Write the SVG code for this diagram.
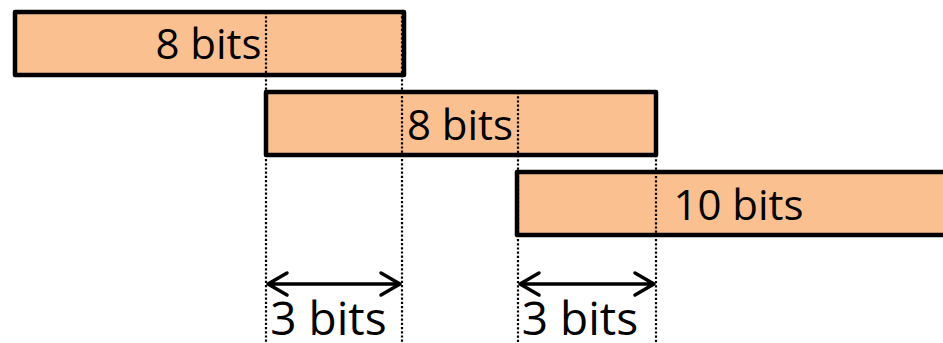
<svg xmlns="http://www.w3.org/2000/svg" width="943" height="343" viewBox="0 0 943 343">
<defs>
<style>
.box{fill:#FAC090;stroke:#000;stroke-width:4.5;stroke-linejoin:round}
.lbl{font-family:"Open Sans","Liberation Sans",sans-serif;font-size:42px;fill:#000;text-anchor:middle}
.big{font-size:46px}
.dot{stroke:#000;stroke-width:2.2;stroke-dasharray:2.2 2;fill:none}
.arr{stroke:#000;stroke-width:3.5;fill:none;stroke-linecap:round;stroke-linejoin:round}
</style>
</defs>
<rect width="943" height="343" fill="#fff"/>
<g id="field1"><rect class="box" x="15" y="12" width="389" height="63"/></g>
<g id="field2"><rect class="box" x="266" y="92" width="390" height="63"/></g>
<g id="field3"><rect class="box" x="517" y="172" width="440" height="63"/></g>
<g id="guides">
<line class="dot" x1="266" y1="12" x2="266" y2="343"/>
<line class="dot" x1="402" y1="12" x2="402" y2="343"/>
<line class="dot" x1="518" y1="92" x2="518" y2="343"/>
<line class="dot" x1="656" y1="92" x2="656" y2="343"/>
</g>
<g id="labels">
<text class="lbl" x="208.5" y="59">8 bits</text>
<text class="lbl" x="460" y="140">8 bits</text>
<text class="lbl" x="738.5" y="220">10 bits</text>
</g>
<g id="connectors">
<g id="span1">
<path class="arr" d="M268 284H400M287 273L268 284L287 295M381 273L400 284L381 295"/>
<text class="lbl big" x="328.5" y="335">3 bits</text>
</g>
<g id="span2">
<path class="arr" d="M520 284H654M539 273L520 284L539 295M635 273L654 284L635 295"/>
<text class="lbl big" x="580" y="335">3 bits</text>
</g>
</g>
</svg>
